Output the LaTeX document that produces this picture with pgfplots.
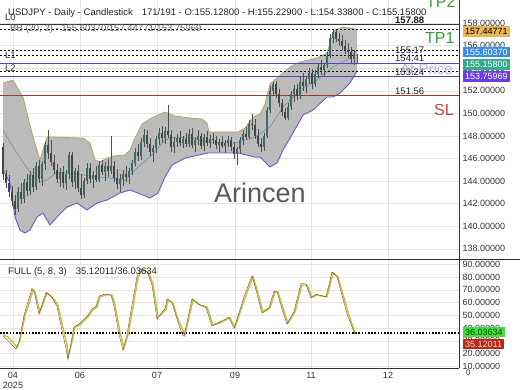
\documentclass[border=0pt]{standalone}
\usepackage{fontspec}
\setmainfont{Liberation Sans}
\usepackage{pgfplots}
\pgfplotsset{compat=1.18}
\usepackage{pgfplotstable}
\usepgfplotslibrary{fillbetween}

\definecolor{bandfill}{HTML}{BBBBBB}
\definecolor{bandup}{HTML}{B3A46A}
\definecolor{bandlow}{HTML}{6A5BD0}
\definecolor{bandmid}{HTML}{6F8FB5}
\definecolor{upc}{HTML}{3F6B63}
\definecolor{dnc}{HTML}{454545}
\definecolor{wick}{HTML}{505050}
\definecolor{lvl}{HTML}{5B3FC4}
\definecolor{slc}{HTML}{9A3B2A}
\definecolor{tpgreen}{HTML}{3C9A3C}
\definecolor{boxtan}{HTML}{E8B458}
\definecolor{boxblue}{HTML}{3A8FE3}
\definecolor{boxteal}{HTML}{35AA8E}
\definecolor{boxpurple}{HTML}{6A3DE0}
\definecolor{kcol}{HTML}{A0301F}
\definecolor{dcol}{HTML}{AECB3A}
\definecolor{boxgreen}{HTML}{44DD44}
\definecolor{boxred}{HTML}{B52A10}
\definecolor{slred}{HTML}{D23C3C}
\definecolor{lav}{HTML}{A89FD8}

\newcommand\fs[1]{\fontsize{#1}{#1}\selectfont}

\pgfplotstableread{
x o h l c
3 147.0 147.4 144.1 144.6
6 144.6 145.0 143.4 143.8
9 143.8 144.5 142.6 143.0
12 143.0 143.6 141.8 142.2
15 142.2 142.8 141.0 141.5
18 141.5 143.5 141.3 143.0
21 143.0 143.8 142.0 142.4
24 142.4 144.2 142.1 143.9
27 143.9 144.6 142.7 143.1
30 143.1 144.9 142.8 144.5
33 144.5 145.2 143.0 143.5
36 143.5 145.7 143.2 145.3
39 145.3 145.9 143.8 144.2
42 144.2 145.8 143.6 145.5
45 145.5 147.5 145.0 147.2
48 147.2 148.5 146.0 146.5
51 146.5 147.6 145.3 145.7
54 145.7 146.3 144.6 145.0
57 145.0 145.5 143.8 144.2
60 144.2 145.2 143.5 144.8
63 144.8 145.3 143.4 143.8
66 143.8 145.0 143.2 144.6
69 144.6 146.6 144.2 146.3
72 146.3 146.6 143.5 143.9
75 143.9 145.2 143.3 144.9
78 144.9 145.4 143.0 143.4
81 143.4 144.6 142.4 142.8
84 142.8 144.3 142.5 144.0
87 144.0 145.6 143.7 145.2
90 145.2 145.6 143.8 144.2
93 144.2 144.9 143.4 144.5
96 144.5 145.3 143.9 144.1
99 144.1 145.8 143.9 145.4
102 145.4 145.9 144.5 144.8
105 144.8 145.7 144.0 145.3
108 145.3 146.0 144.4 144.9
111 144.9 148.0 144.6 145.3
114 145.3 145.8 143.9 144.3
117 144.3 145.1 143.3 143.7
120 143.7 144.6 143.0 144.2
123 144.2 145.0 143.6 144.6
126 144.6 145.3 143.9 144.4
129 144.4 145.2 143.7 144.9
132 144.9 145.9 144.5 145.6
135 145.6 146.9 145.3 146.6
138 146.6 147.3 145.8 146.2
141 146.2 147.8 145.9 147.5
144 147.5 148.6 147.0 148.1
147 148.1 148.5 146.9 147.3
150 147.3 147.8 146.2 146.6
153 146.6 147.2 145.7 146.9
156 146.9 148.0 146.5 147.7
159 147.7 148.7 147.2 148.3
162 148.3 148.9 147.4 147.8
165 147.8 148.8 147.3 148.4
168 148.4 150.7 147.8 148.1
171 148.1 148.5 146.6 147.0
174 147.0 147.9 146.5 147.5
177 147.5 148.2 147.0 147.8
180 147.8 148.4 147.1 147.4
183 147.4 148.0 146.9 147.7
186 147.7 148.3 147.0 147.3
189 147.3 148.6 147.0 148.2
192 148.2 148.7 146.9 147.2
195 147.2 147.9 146.6 147.6
198 147.6 148.5 147.2 148.0
201 148.0 148.3 146.8 147.1
204 147.1 148.2 146.7 147.9
207 147.9 148.4 147.1 147.4
210 147.4 148.1 146.9 147.7
213 147.7 148.3 147.3 147.6
216 147.6 148.0 146.8 147.2
219 147.2 147.7 146.6 147.5
222 147.5 148.0 146.9 147.1
225 147.1 147.6 146.5 147.4
228 147.4 148.0 147.0 147.6
231 147.6 147.9 146.7 147.0
234 147.0 147.5 146.0 146.4
237 146.4 147.0 145.4 146.8
240 146.8 147.9 146.5 147.6
243 147.6 148.5 147.2 148.2
246 148.2 148.8 147.6 147.9
249 147.9 149.4 147.7 149.1
252 149.1 149.9 148.5 149.0
255 149.0 149.5 147.7 148.0
258 148.0 148.6 147.0 147.3
261 147.3 147.8 146.6 147.0
264 147.0 148.3 146.7 148.0
267 148.0 150.6 147.8 150.3
270 150.3 152.4 150.0 152.0
273 152.0 152.8 151.5 152.6
276 152.6 152.9 151.4 151.7
279 151.7 152.2 150.6 150.9
282 150.9 151.3 149.8 150.1
285 150.1 150.5 149.4 149.6
288 149.6 150.9 149.4 150.6
291 150.6 152.0 150.3 151.7
294 151.7 152.5 151.0 152.2
297 152.2 152.6 151.2 151.5
300 151.5 153.2 151.3 152.8
303 152.8 153.6 152.0 152.4
306 152.4 153.3 151.8 153.0
309 153.0 154.0 152.6 153.6
312 153.6 153.9 152.2 152.6
315 152.6 153.8 152.3 153.5
318 153.5 154.4 153.1 154.1
321 154.1 154.7 153.4 153.8
324 153.8 154.5 153.3 154.3
327 154.3 155.4 154.0 155.1
330 155.1 157.0 154.9 156.7
333 156.7 157.5 156.2 157.2
336 157.2 157.4 156.3 156.6
339 156.6 157.1 156.0 156.4
342 156.4 156.9 155.6 156.0
345 156.0 156.5 155.3 155.6
348 155.6 156.2 154.9 155.4
351 155.4 155.9 154.5 154.8
354 154.8 155.6 154.3 155.2
357 155.128 155.229 154.338 155.158
}\candles

\pgfplotstableread{
x y
3 152.69
13 152.95
23 151.45
33 147.90
40 145.87
47 147.90
53 147.90
83 147.81
90 147.37
95 145.87
100 145.69
107 146.04
113 146.22
125 146.31
130 146.75
135 147.81
142 149.05
150 149.50
158 149.85
165 150.12
175 149.76
190 149.59
202 149.50
207 149.14
209 148.35
238 148.35
245 148.70
250 149.32
255 149.76
260 149.94
265 150.83
270 152.60
277 153.13
290 154.10
300 154.55
317 154.90
327 155.34
332 156.76
335 157.38
343 157.65
357 157.45
}\bbup

\pgfplotstableread{
x y
3 144.98
10 143.83
15 140.82
20 139.67
25 139.40
30 139.67
37 140.82
43 141.17
50 140.11
57 140.82
67 141.70
77 142.06
87 141.44
97 142.06
107 142.32
120 142.94
130 143.21
138 142.94
150 142.50
158 142.94
165 144.36
172 145.42
185 146.04
208 146.49
238 146.49
255 146.13
260 146.13
270 145.25
277 145.60
283 146.75
293 148.26
303 149.85
313 150.29
327 151.45
333 151.45
340 151.80
350 152.69
357 153.76
}\bblo

\pgfplotstableread{
x y
3 148.52
15 146.75
25 145.42
33 144.36
40 143.92
47 144.09
57 144.80
70 144.71
90 144.45
110 144.27
125 144.09
138 145.25
152 146.31
165 147.64
175 147.90
192 147.81
208 147.46
235 147.37
255 147.90
270 148.79
283 150.56
300 152.07
317 152.95
333 154.10
350 154.90
357 155.60
}\bbmid

\pgfplotstableread{
x y
3 34.5
8 33.0
17 25.1
20 30.6
25 50.2
28 56.5
33 69.9
35 68.3
40 52.6
47 67.5
53 63.6
58 58.1
63 40.0
67 26.7
68 17.3
72 29.0
75 40.8
80 42.4
85 46.3
88 48.7
93 54.2
97 56.5
100 64.4
105 65.9
112 65.9
115 58.1
120 36.9
124 24.3
128 34.5
133 56.5
138 79.3
142 85.6
148 84.0
153 74.6
158 48.7
163 51.8
166 54.2
168 62.0
173 59.7
178 47.0
183 38.0
185 34.5
193 62.0
200 58.1
207 56.5
213 42.4
220 44.0
230 47.9
235 40.8
245 63.6
253 80.1
258 67.5
263 52.6
270 55.7
275 68.3
278 68.3
283 55.7
288 44.0
295 52.6
302 73.8
307 73.8
312 64.4
317 65.9
327 64.4
333 83.2
338 80.1
348 52.6
355 36.04
}\stochD

\pgfplotstableread{
x y
3 33.5
7 31.0
16 23.5
19 29.0
24 50.0
27 58.0
32 71.0
34 69.0
39 51.0
46 68.0
52 64.0
57 57.0
62 38.0
66 24.0
68 15.5
71 28.0
74 41.0
79 43.0
84 47.0
87 49.0
92 55.0
96 57.0
99 65.0
104 66.5
111 66.0
114 57.0
119 35.0
123 22.5
127 35.0
132 58.0
137 80.5
141 86.5
147 84.5
152 74.0
157 47.0
162 52.5
165 55.0
167 63.0
172 60.0
177 47.0
182 35.5
184 33.5
192 63.0
199 58.5
206 56.0
212 41.5
219 44.5
229 48.5
234 39.5
244 64.5
252 81.0
257 67.0
262 51.5
269 56.0
274 69.0
277 68.5
282 55.0
287 43.0
294 53.0
301 75.0
306 74.5
311 63.5
316 66.5
326 64.5
332 84.0
337 80.5
347 51.0
355 35.12
}\stochK

\begin{document}
\begin{tikzpicture}

\begin{axis}[
  at={(0pt,390pt)}, anchor=north west, scale only axis,
  width=459pt, height=258pt,
  xmin=0, xmax=459, ymin=137.19, ymax=160.04,
  axis line style={draw=none},
  xtick={13,80,157,235,311,388}, xticklabels={},
  ytick={138,140,...,158},
  yticklabel pos=right,
  major tick length=0pt,
  grid=major, major grid style={draw=black!10, line width=0.4pt},
  scaled y ticks=false,
  yticklabel={\pgfmathprintnumber[fixed,fixed zerofill,precision=5,assume math mode=true]{\tick}},
  tick label style={font=\fs{9}, text=black!80},
  clip=false,
  colormap={updown}{color(0)=(dnc) color(1)=(upc)},
  point meta min=-0.0001, point meta max=0.0001,
]
\addplot[name path=up, draw=none, forget plot] table {\bbup};
\addplot[name path=lo, draw=none, forget plot] table {\bblo};
\addplot[fill=bandfill, draw=none, forget plot] fill between[of=up and lo];
\addplot[bandup, line width=0.8pt, forget plot] table {\bbup};
\addplot[bandlow, line width=0.9pt, forget plot] table {\bblo};
\addplot[bandmid, line width=0.6pt, forget plot] table {\bbmid};

% horizontal levels
\draw[black!80, line width=1pt] (axis cs:0,157.88) -- (axis cs:459,157.88);
\draw[black, line width=0.7pt, dash pattern=on 2pt off 2pt] (axis cs:0,157.44771) -- (axis cs:459,157.44771);
\draw[black, line width=0.7pt, dash pattern=on 2pt off 2pt] (axis cs:0,155.60370) -- (axis cs:459,155.60370);
\draw[black, line width=0.7pt, dash pattern=on 2pt off 2pt] (axis cs:0,155.158) -- (axis cs:459,155.158);
\draw[black, line width=0.7pt, dash pattern=on 2pt off 2pt] (axis cs:0,153.75969) -- (axis cs:459,153.75969);
\draw[lvl, line width=0.8pt] (axis cs:0,154.41) -- (axis cs:459,154.41);
\draw[lvl, line width=0.8pt] (axis cs:0,153.24) -- (axis cs:459,153.24);
\draw[slc, line width=0.8pt] (axis cs:0,151.56) -- (axis cs:459,151.56);

% candles: wicks
\addplot[wick, line width=0.45pt, forget plot,
  quiver={u=0, v=\thisrow{h}-\thisrow{l}}]
  table[x=x, y=l] {\candles};
% bodies
\addplot[line width=1.15pt, forget plot,
  point meta=\thisrow{c}-\thisrow{o},
  quiver={u=0, v=\thisrow{c}-\thisrow{o}, colored=mapped color}]
  table[x=x, y=o] {\candles};
\end{axis}

\begin{axis}[
  at={(0pt,130pt)}, anchor=north west, scale only axis,
  width=459pt, height=108pt,
  xmin=0, xmax=459, ymin=8.63, ymax=93.4,
  axis line style={draw=none},
  xtick={13,80,157,235,311,388}, xticklabels={04,06,07,09,11,12},
  ytick={10,20,...,90},
  yticklabel pos=right,
  major tick length=0pt,
  grid=major, major grid style={draw=black!10, line width=0.4pt},
  yticklabel={\pgfmathprintnumber[fixed,fixed zerofill,precision=5,assume math mode=true]{\tick}},
  tick label style={font=\fs{9}, text=black!80},
  xticklabel style={yshift=-1pt},
  clip=false,
]
\draw[black, line width=1.3pt, dash pattern=on 1.6pt off 1.6pt] (axis cs:0,36.03634) -- (axis cs:459,36.03634);
\addplot[dcol, line width=1.4pt, forget plot] table {\stochD};
\addplot[kcol, line width=0.4pt, forget plot] table {\stochK};
\end{axis}

% frame lines
\draw[black!80, line width=0.8pt] (459pt,390pt) -- (459pt,22pt);
\draw[black!80, line width=0.8pt] (0pt,131pt) -- (520pt,131pt);
\draw[black!80, line width=0.8pt] (0pt,22pt) -- (459pt,22pt);

% texts
\node[anchor=west, inner sep=0pt, font=\fs{9.5}, text=black!85] at (8pt,377pt)
  {USDJPY - Daily - Candlestick\hspace{9pt}171/191 - O:155.12800 - H:155.22900 - L:154.33800 - C:155.15800};
\node[anchor=west, inner sep=0pt, font=\fs{9.5}, text=black!80] at (5pt,373pt) {L0};
\node[anchor=west, inner sep=0pt, font=\fs{9.5}, text=black!60] at (10pt,361pt) {BB (20, 2) - 155.60370/157.44771/153.75969};
\node[anchor=west, inner sep=0pt, font=\fs{9.5}, text=black!80] at (5pt,335pt) {L1};
\node[anchor=west, inner sep=0pt, font=\fs{9.5}, text=black!80] at (5pt,322pt) {L2};

\node[anchor=west, inner sep=0pt, font=\fs{9.5}\bfseries, text=black!90] at (395pt,370pt) {157.88};
\node[anchor=west, inner sep=0pt, font=\fs{9.5}, text=black!85] at (395pt,340pt) {155.17};
\node[anchor=west, inner sep=0pt, font=\fs{9.5}, text=black!85] at (395pt,332pt) {154.41};
\node[anchor=west, inner sep=0pt, font=\fs{9.5}, text=black!85] at (395pt,318pt) {153.24};
\node[anchor=west, inner sep=0pt, font=\fs{9.5}, text=black!85] at (395pt,299pt) {151.56};

\node[anchor=west, inner sep=0pt, font=\fs{16}, text=tpgreen] at (426pt,388pt) {TP2};
\node[anchor=west, inner sep=0pt, font=\fs{16}, text=tpgreen] at (425pt,352pt) {TP1};
\node[anchor=west, inner sep=0pt, font=\fs{15}, text=lav, text opacity=0.8] at (400pt,321pt) {At Price};
\node[anchor=west, inner sep=0pt, font=\fs{16}, text=slred] at (434pt,280pt) {SL};
\node[inner sep=0pt, font=\fs{27}, text=black!65] at (260pt,197pt) {Arincen};

\node[anchor=west, fill=boxtan, text=black, font=\fs{9}, inner xsep=2pt, inner ysep=0pt, minimum height=10.5pt] at (463pt,358.5pt) {157.44771};
\node[anchor=west, fill=boxblue, text=white, font=\fs{9}, inner xsep=2pt, inner ysep=0pt, minimum height=10.5pt] at (463pt,338pt) {155.60370};
\node[anchor=west, fill=boxteal, text=white, font=\fs{9}, inner xsep=2pt, inner ysep=0pt, minimum height=10.5pt] at (463pt,325.5pt) {155.15800};
\node[anchor=west, fill=boxpurple, text=white, font=\fs{9}, inner xsep=2pt, inner ysep=0pt, minimum height=10.5pt] at (463pt,313.5pt) {153.75969};

\node[anchor=west, inner sep=0pt, font=\fs{9.5}, text=black!85] at (8pt,118pt) {FULL (5, 8, 3)\hspace{9pt}35.12011/36.03634};
\node[anchor=west, fill=boxgreen, text=green!30!black, font=\fs{9}, inner xsep=2pt, inner ysep=0pt, minimum height=10.5pt] at (463pt,58pt) {36.03634};
\node[anchor=west, fill=boxred, text=red!15, font=\fs{9}, inner xsep=2pt, inner ysep=0pt, minimum height=10.5pt] at (463pt,46pt) {35.12011};
\node[anchor=west, inner sep=0pt, font=\fs{8}, text=black!80] at (466pt,17pt) {0};
\node[inner sep=0pt, font=\fs{9}, text=black!80] at (13pt,5pt) {2025};

\pgfresetboundingbox
\path[use as bounding box] (0,0) rectangle (520pt,390pt);
\end{tikzpicture}
\end{document}
